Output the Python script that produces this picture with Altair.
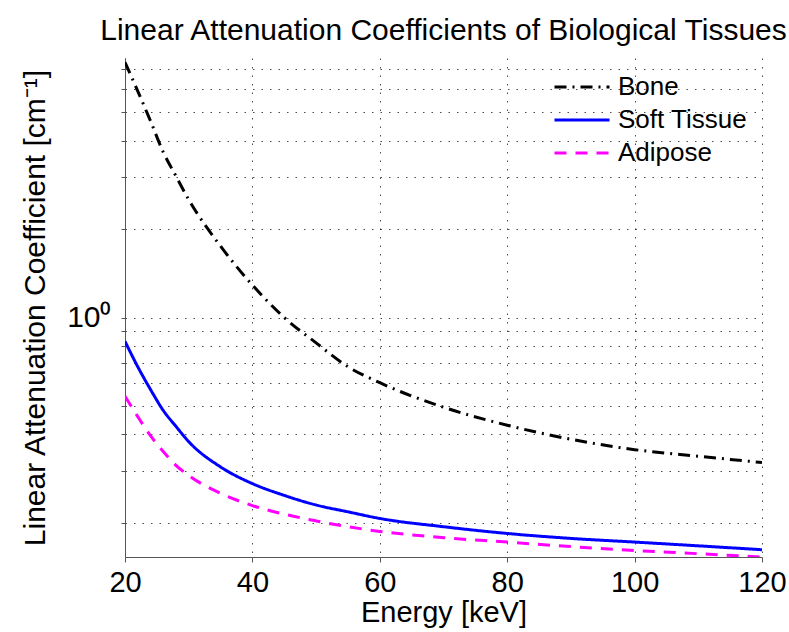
import altair as alt
import pandas as pd

energy = [20, 22, 24, 26, 28, 30, 35, 40, 45, 50, 55, 60, 70, 80, 90, 100, 110, 120]

bone = [7.40, 5.90, 4.67, 3.66, 3.03, 2.52, 1.75, 1.29, 1.00, 0.82, 0.68, 0.60,
        0.495, 0.43, 0.385, 0.355, 0.337, 0.321]
soft = [0.83, 0.68, 0.569, 0.483, 0.426, 0.378, 0.31, 0.272, 0.248, 0.23, 0.218,
        0.207, 0.194, 0.184, 0.177, 0.172, 0.167, 0.162]
adipose = [0.54, 0.46, 0.396, 0.35, 0.314, 0.29, 0.252, 0.229, 0.214, 0.203, 0.194,
           0.187, 0.178, 0.172, 0.166, 0.161, 0.157, 0.153]

series_names = ["Bone", "Soft Tissue", "Adipose"]
series_colors = ["#000000", "#0000ff", "#ff00ff"]
series_dash = [[12, 6, 2, 6], [1, 0], [12, 9]]

x_ticks = [20, 40, 60, 80, 100, 120]
y_grid = [0.2, 0.3, 0.4, 0.5, 0.6, 0.7, 0.8, 0.9, 1, 2, 3, 4, 5, 6, 7]
y_domain = [0.153, 7.65]

rows = []
for name, vals in zip(series_names, [bone, soft, adipose]):
    for e, v in zip(energy, vals):
        rows.append({"energy": e, "value": v, "series": name})
df = pd.DataFrame(rows)

FONT = "Liberation Sans"

lines = alt.Chart(df).mark_line(strokeWidth=3, interpolate="monotone", clip=True).encode(
    x=alt.X("energy:Q",
            scale=alt.Scale(domain=[20, 120], nice=False, zero=False),
            axis=alt.Axis(values=x_ticks, title="Energy [keV]", grid=True,
                          gridDash=[1.5, 7], gridColor="#000000", gridOpacity=0.7,
                          tickSize=5, labelPadding=6, titlePadding=1,
                          labelFlush=False, labelOverlap=False,
                          labelFont=FONT, titleFont=FONT, labelFontSize=29,
                          titleFontSize=29, titleFontWeight="normal",
                          labelColor="#000000", titleColor="#000000",
                          domainColor="#555555", tickColor="#555555")),
    y=alt.Y("value:Q",
            scale=alt.Scale(type="log", domain=y_domain, nice=False),
            axis=alt.Axis(values=y_grid, title="Linear Attenuation Coefficient [cm⁻¹]",
                          labelExpr="datum.value == 1 ? '10⁰' : ''",
                          grid=True, gridDash=[1.5, 7], gridColor="#000000",
                          gridOpacity=0.7, tickSize=4, labelPadding=10,
                          titlePadding=16, labelFlush=False,
                          labelFont=FONT, titleFont=FONT, labelFontSize=30,
                          titleFontSize=30, titleFontWeight="normal",
                          labelColor="#000000", titleColor="#000000",
                          domainColor="#555555", tickColor="#555555")),
    color=alt.Color("series:N",
                    scale=alt.Scale(domain=series_names, range=series_colors),
                    legend=alt.Legend(title=None, orient="none", legendX=444, legendY=16,
                                      symbolType="M-5,0H5", symbolSize=121,
                                      symbolStrokeWidth=3, labelFontSize=26,
                                      labelFont=FONT, rowPadding=7, labelOffset=23,
                                      labelColor="#000000", padding=0)),
    strokeDash=alt.StrokeDash("series:N",
                              scale=alt.Scale(domain=series_names, range=series_dash),
                              legend=None),
)

chart = lines.properties(
    width=637, height=499,
    background="white",
    title=alt.TitleParams("Linear Attenuation Coefficients of Biological Tissues",
                          font=FONT, fontSize=30, fontWeight="normal", color="#000000",
                          anchor="middle", offset=12),
    autosize=alt.AutoSizeParams(type="none"),
    padding={"left": 125, "top": 58, "right": 27, "bottom": 75},
).configure_view(stroke=None)

chart.save("out.html", embed_options={"renderer": "svg", "actions": False})
